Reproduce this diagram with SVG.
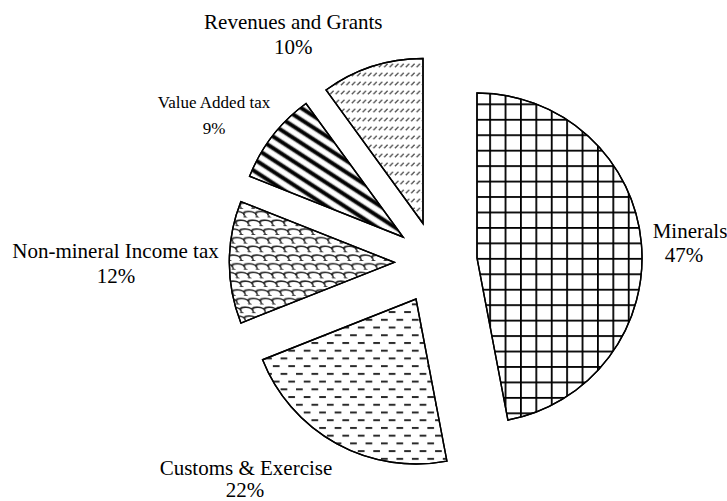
<svg xmlns="http://www.w3.org/2000/svg" width="727" height="501" viewBox="0 0 727 501">
<style>
  .lbl { font-family: "Liberation Serif", "Times New Roman", serif; font-size: 21px; fill: #000; text-anchor: middle; }
  .lbl-s { font-size: 17px; }
  .slice { stroke: #000; stroke-width: 1.4; stroke-linejoin: miter; }
</style>
<defs>
  <pattern id="pGrid" patternUnits="userSpaceOnUse" x="489.2" y="103.4" width="15.4" height="15.45">
    <rect x="0" y="0" width="1.8" height="15.45" fill="#000"/>
    <rect x="0" y="0" width="15.4" height="1.8" fill="#000"/>
  </pattern>
  <pattern id="pDash" patternUnits="userSpaceOnUse" x="288.3" y="349.7" width="15.45" height="15.45">
    <rect x="0" y="0" width="6.7" height="2" fill="#2a2a2a"/>
    <rect x="7.73" y="7.73" width="6.7" height="2" fill="#2a2a2a"/>
  </pattern>
  <pattern id="pShingle" patternUnits="userSpaceOnUse" x="0" y="0" width="12" height="8.7" patternTransform="skewX(25)">
    <g fill="none" stroke="#222" stroke-width="1.5">
      <path d="M0,8.7 L0,6 C0,1.5 12,1.5 12,6 L12,8.7"/>
      <path d="M-2,8.7 L2,8.7"/>
      <path d="M10,8.7 L14,8.7"/>
    </g>
  </pattern>
  <pattern id="pStripe" patternUnits="userSpaceOnUse" x="0" y="0" width="20" height="9.8" patternTransform="rotate(33)">
    <rect x="0" y="2.4" width="20" height="5" fill="#999"/>
    <rect x="0" y="3.2" width="20" height="3.4" fill="#000"/>
  </pattern>
  <pattern id="pSlash" patternUnits="userSpaceOnUse" x="0" y="0" width="5.4" height="9">
    <line x1="0.8" y1="4.2" x2="4.2" y2="0.8" stroke="#555" stroke-width="1.4"/>
  </pattern>
</defs>

<g id="minerals">
  <path class="slice" fill="#fff" d="M477,258 L477,93 A165,165 0 0 1 507.92,420.08 Z"/>
  <path class="slice" fill="url(#pGrid)" d="M477,258 L477,93 A165,165 0 0 1 507.92,420.08 Z"/>
  <text class="lbl" x="690" y="238">Minerals</text>
  <text class="lbl" x="684" y="262">47%</text>
</g>

<g id="customs">
  <path class="slice" fill="#fff" d="M416,299 L446.92,461.08 A165,165 0 0 1 262.59,359.74 Z"/>
  <path class="slice" fill="url(#pDash)" d="M416,299 L446.92,461.08 A165,165 0 0 1 262.59,359.74 Z"/>
  <text class="lbl" x="246" y="475">Customs &amp; Exercise</text>
  <text class="lbl" x="245" y="497">22%</text>
</g>

<g id="nonmineral">
  <path class="slice" fill="#fff" d="M394.3,262.3 L240.89,323.04 A165,165 0 0 1 240.89,201.56 Z"/>
  <path class="slice" fill="url(#pShingle)" d="M394.3,262.3 L240.89,323.04 A165,165 0 0 1 240.89,201.56 Z"/>
  <text class="lbl" x="115.5" y="258">Non-mineral Income tax</text>
  <text class="lbl" x="116" y="283">12%</text>
</g>

<g id="vat">
  <path class="slice" fill="#fff" d="M403,237 L249.59,176.26 A165,165 0 0 1 306.01,103.51 Z"/>
  <path class="slice" fill="url(#pStripe)" d="M403,237 L249.59,176.26 A165,165 0 0 1 306.01,103.51 Z"/>
  <text class="lbl lbl-s" x="214" y="108">Value Added tax</text>
  <text class="lbl lbl-s" x="214" y="134">9%</text>
</g>

<g id="revenues">
  <path class="slice" fill="#fff" d="M423,223.5 L326.01,90.01 A165,165 0 0 1 423,58.5 Z"/>
  <path class="slice" fill="url(#pSlash)" d="M423,223.5 L326.01,90.01 A165,165 0 0 1 423,58.5 Z"/>
  <text class="lbl" x="293.3" y="29">Revenues and Grants</text>
  <text class="lbl" x="293.3" y="54">10%</text>
</g>
</svg>
